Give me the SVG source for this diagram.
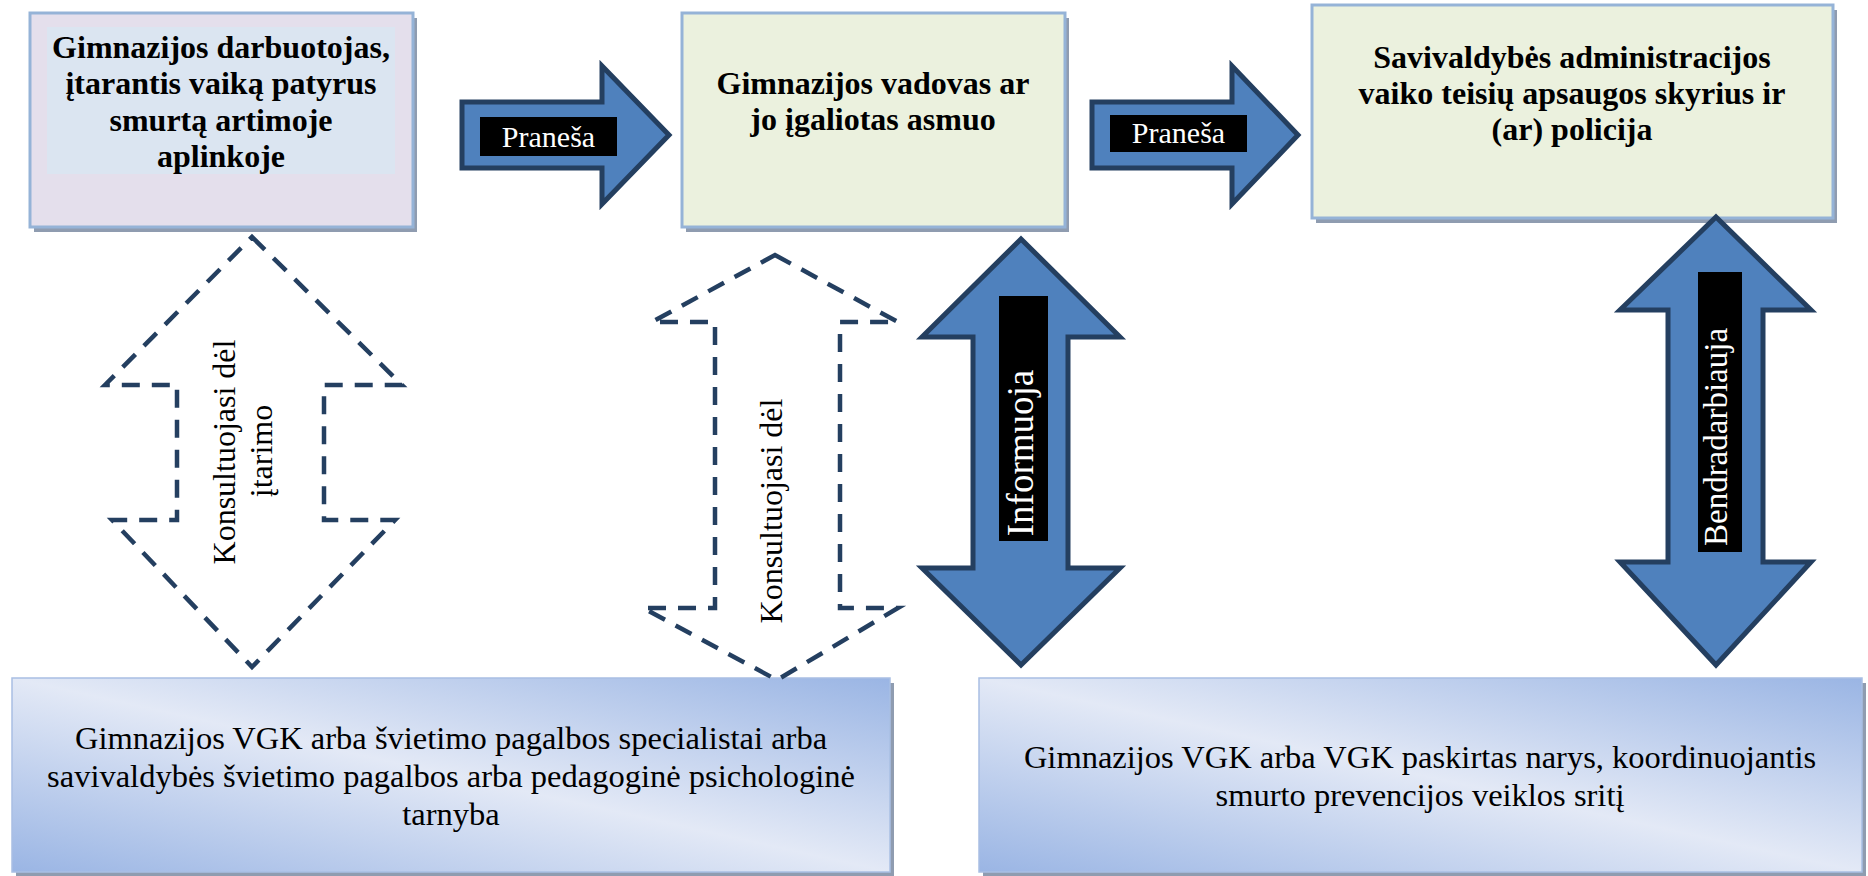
<svg xmlns="http://www.w3.org/2000/svg" width="1868" height="876" viewBox="0 0 1868 876">
<defs>
<style>
.shadow{fill:#8F9CB0;}
.box{stroke:#95B3D7;stroke-width:3;}
.lav{fill:#E4DFEC;}
.inner{fill:#DBE5F1;}
.grn{fill:#EBF1DE;}
.grad{fill:url(#bg);stroke:#A9BFE3;stroke-width:1.5;}
.bt{font-family:"Liberation Serif","DejaVu Serif",serif;font-weight:bold;font-size:32px;fill:#000;text-anchor:middle;}
.rt{font-family:"Liberation Serif","DejaVu Serif",serif;font-size:32.5px;fill:#000;text-anchor:middle;}
.lbl{fill:#000;}
.wt{font-family:"Liberation Serif","DejaVu Serif",serif;font-size:30px;fill:#fff;text-anchor:middle;}
.solid{fill:#4F81BD;stroke:#243F60;stroke-width:5;stroke-linejoin:miter;}
.dash{fill:none;stroke:#243F60;stroke-width:4.5;stroke-dasharray:18 12;}
.dt{font-family:"Liberation Serif","DejaVu Serif",serif;font-size:32px;fill:#000;text-anchor:middle;}
</style>
<linearGradient id="bg" x1="0" y1="1" x2="1" y2="0">
<stop offset="0" stop-color="#9AB5E4"/>
<stop offset="0.5" stop-color="#E3E9F6"/>
<stop offset="1" stop-color="#9AB5E4"/>
</linearGradient>
</defs>
<rect width="1868" height="876" fill="#fff"/>

<g id="node-darbuotojas">
<rect class="shadow" x="34" y="18" width="383" height="214"/>
<rect class="box lav" x="30" y="13" width="383" height="214"/>
<rect class="inner" x="47" y="27" width="348" height="147"/>
<text class="bt" x="221" y="57.5">Gimnazijos darbuotojas,</text>
<text class="bt" x="221" y="94">įtarantis vaiką patyrus</text>
<text class="bt" x="221" y="130.5">smurtą artimoje</text>
<text class="bt" x="221" y="167">aplinkoje</text>
</g>

<g id="node-vadovas">
<rect class="shadow" x="686" y="18" width="383" height="214"/>
<rect class="box grn" x="682" y="13" width="383" height="214"/>
<text class="bt" x="873" y="94">Gimnazijos vadovas ar</text>
<text class="bt" x="873" y="130">jo įgaliotas asmuo</text>
</g>

<g id="node-savivaldybe">
<rect class="shadow" x="1316" y="10" width="521" height="213"/>
<rect class="box grn" x="1312" y="5" width="521" height="213"/>
<text class="bt" x="1572" y="68">Savivaldybės administracijos</text>
<text class="bt" x="1572" y="104">vaiko teisių apsaugos skyrius ir</text>
<text class="bt" x="1572" y="140">(ar) policija</text>
</g>

<g id="node-vgk-specialistai">
<rect class="shadow" x="16" y="683" width="878" height="193"/>
<rect class="grad" x="12" y="678" width="878" height="194"/>
<text class="rt" x="451" y="749">Gimnazijos VGK arba švietimo pagalbos specialistai arba</text>
<text class="rt" x="451" y="787">savivaldybės švietimo pagalbos arba pedagoginė psichologinė</text>
<text class="rt" x="451" y="825">tarnyba</text>
</g>

<g id="node-vgk-narys">
<rect class="shadow" x="983" y="683" width="883" height="193"/>
<rect class="grad" x="979" y="678" width="883" height="194"/>
<text class="rt" x="1420" y="768">Gimnazijos VGK arba VGK paskirtas narys, koordinuojantis</text>
<text class="rt" x="1420" y="806">smurto prevencijos veiklos sritį</text>
</g>

<g id="connectors">
<g id="arrow-pranesa-1">
<polygon class="solid" points="462,102 602,102 602,66 669,135 602,204 602,168 462,168"/>
<rect class="lbl" x="480" y="117" width="137" height="39"/>
<text class="wt" x="548.5" y="147">Praneša</text>
</g>
<g id="arrow-pranesa-2">
<polygon class="solid" points="1092,102 1232,102 1232,66 1298,135 1232,204 1232,168 1092,168"/>
<rect class="lbl" x="1110" y="115" width="137" height="37"/>
<text class="wt" x="1178.5" y="143">Praneša</text>
</g>
<g id="arrow-konsultuojasi-1">
<polygon class="dash" points="252,237 402,385 324,385 324,520 395,520 252,667 112,520 177,520 177,385 105,385"/>
<text class="dt" transform="translate(235,452) rotate(-90)">Konsultuojasi dėl</text>
<text class="dt" transform="translate(272,451) rotate(-90)">įtarimo</text>
</g>
<g id="arrow-konsultuojasi-2">
<polygon class="dash" points="775,255 898,322 840,322 840,608 898,608 777,680 643,608 715,608 715,322 652,322"/>
<text class="dt" transform="translate(782,511) rotate(-90)">Konsultuojasi dėl</text>
</g>
<g id="arrow-informuoja">
<polygon class="solid" points="1021,239 1120,337 1068,337 1068,568 1120,568 1021,665 922,568 973,568 973,337 922,337"/>
<rect class="lbl" x="999" y="296" width="49" height="245"/>
<text class="wt" style="font-size:37px" transform="translate(1033,453) rotate(-90)">Informuoja</text>
</g>
<g id="arrow-bendradarbiauja">
<polygon class="solid" points="1716,217 1811,310 1763,310 1763,562 1811,562 1716,665 1620,562 1668,562 1668,310 1620,310"/>
<rect class="lbl" x="1698" y="272" width="44" height="280"/>
<text class="wt" style="font-size:33px" transform="translate(1727,437) rotate(-90)">Bendradarbiauja</text>
</g>
</g>
</svg>
